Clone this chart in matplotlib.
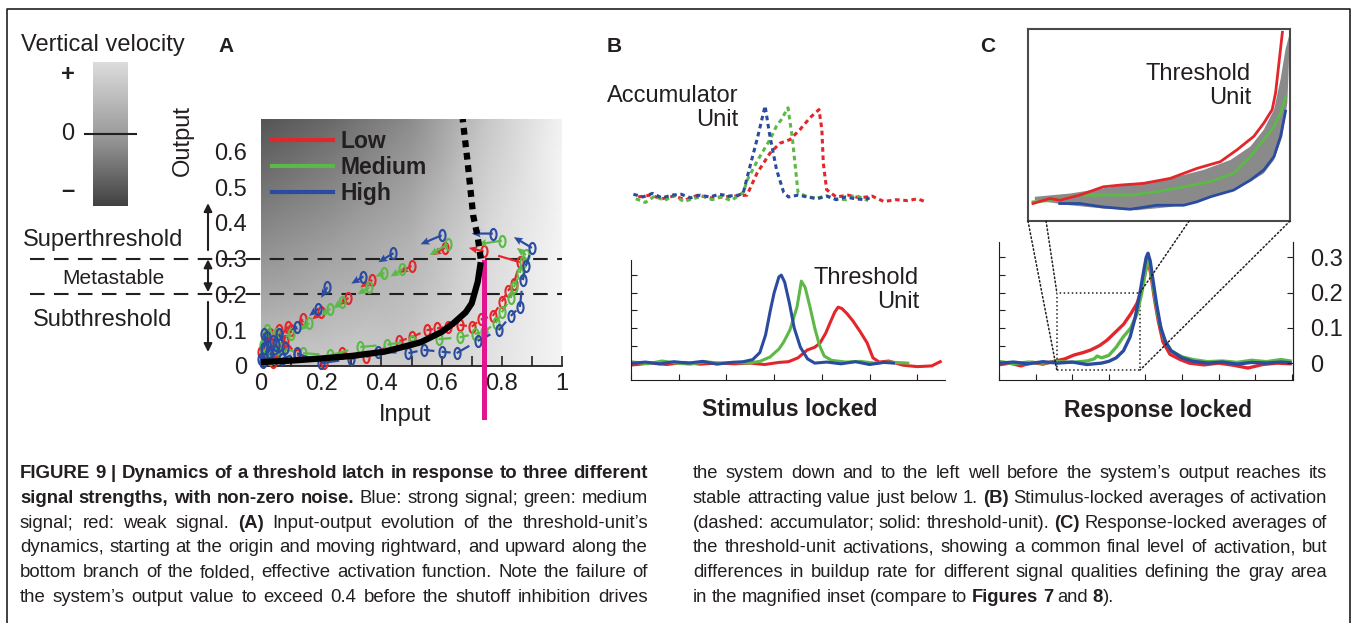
import numpy as np
import matplotlib
matplotlib.use('Agg')
import matplotlib.pyplot as plt
from matplotlib.path import Path
from matplotlib.lines import Line2D
from matplotlib.patches import Rectangle, ConnectionPatch
from matplotlib.colors import LinearSegmentedColormap, Normalize
from matplotlib.cm import ScalarMappable
from matplotlib import font_manager

W, H = 1356, 623
plt.rcParams['font.family'] = ['Liberation Sans', 'DejaVu Sans']
INK = '#231f20'
RED, GREEN, BLUE = '#e3262b', '#5db947', '#2a4b9f'
MAGENTA = '#e2168c'

# caption face: a narrow sans if one is installed
try:
    font_manager.findfont('Liberation Sans Narrow', fallback_to_default=False)
    CAP_FONT = ['Liberation Sans Narrow', 'Liberation Sans']
except Exception:
    CAP_FONT = ['Liberation Sans', 'DejaVu Sans']

# ---- panel A data ------------------------------------------------------
level_names = ['Low', 'Medium', 'High']
# background (vertical velocity shading)
bg_x = [0, 0.25, 0.5, 0.75, 1.0]
bg_y = [0, 0.35, 0.69]
bg_gray = [[0.78, 0.80, 0.80, 0.88, 0.96],
           [0.55, 0.62, 0.70, 0.85, 0.96],
           [0.33, 0.42, 0.55, 0.78, 0.95]]
# stable (solid) and unstable (dotted) branch of the activation function
stable_x = [0, 0.1, 0.2, 0.3, 0.41, 0.53, 0.6, 0.64, 0.68, 0.70, 0.72, 0.73]
stable_y = [0.011, 0.015, 0.021, 0.028, 0.04, 0.066, 0.095, 0.12, 0.15, 0.175, 0.235, 0.29]
unstable_x = [0.73, 0.72, 0.705, 0.685, 0.67]
unstable_y = [0.30, 0.36, 0.42, 0.58, 0.69]
threshold_input = 0.74
threshold_top = 0.29
upper_bound, lower_bound = 0.3, 0.2

# trajectories: lower (rightward) branch and upper (leftward, arrows) branch
red_low_x = [0.0, 0.015, 0.04, 0.07, 0.09, 0.01, 0.02, 0.03, 0.05, 0.06, 0.08, 0.12, 0.21, 0.27,
             0.35, 0.46, 0.50, 0.55, 0.585, 0.62, 0.66, 0.70, 0.73, 0.77, 0.80, 0.82, 0.84, 0.86]
red_low_y = [0.04, 0.08, 0.01, 0.05, 0.11, 0.02, 0.06, 0.09, 0.04, 0.10, 0.07, 0.03, 0.008, 0.036,
             0.025, 0.07, 0.08, 0.10, 0.105, 0.11, 0.115, 0.11, 0.13, 0.14, 0.18, 0.21, 0.23, 0.29]
red_up_x = [0.74, 0.61, 0.50, 0.37, 0.29, 0.20, 0.14, 0.10]
red_up_y = [0.32, 0.33, 0.28, 0.24, 0.19, 0.15, 0.13, 0.10]
red_up_u = [-0.05, -0.04, -0.04, -0.04, -0.03, -0.03, -0.02, -0.02]
red_up_v = [0.01, -0.02, -0.02, -0.02, -0.02, -0.02, -0.01, -0.01]

green_low_x = [0.005, 0.02, 0.05, 0.07, 0.01, 0.03, 0.04, 0.06, 0.14, 0.23, 0.33, 0.42, 0.50,
               0.59, 0.66, 0.71, 0.74, 0.78, 0.80, 0.83, 0.84, 0.86, 0.87]
green_low_y = [0.06, 0.10, 0.09, 0.03, 0.04, 0.02, 0.07, 0.05, 0.036, 0.03, 0.053, 0.06, 0.07,
               0.075, 0.08, 0.09, 0.095, 0.12, 0.15, 0.19, 0.22, 0.26, 0.29]
green_up_x = [0.88, 0.80, 0.62, 0.47, 0.41, 0.36, 0.27, 0.23, 0.16, 0.10]
green_up_y = [0.31, 0.35, 0.34, 0.27, 0.26, 0.22, 0.18, 0.16, 0.12, 0.09]
green_up_u = [-0.03, -0.08, -0.06, -0.04, -0.03, -0.04, -0.03, -0.03, -0.03, -0.02]
green_up_v = [0.02, -0.01, -0.03, -0.02, -0.01, -0.02, -0.02, -0.02, -0.02, -0.01]

blue_low_x = [0.0, 0.01, 0.025, 0.04, 0.06, 0.08, 0.005, 0.01, 0.02, 0.03, 0.05, 0.07, 0.12, 0.20,
              0.30, 0.39, 0.49, 0.54, 0.60, 0.65, 0.72, 0.79, 0.83, 0.86, 0.87, 0.88]
blue_low_y = [0.02, 0.09, 0.04, 0.07, 0.09, 0.05, 0.01, 0.05, 0.08, 0.03, 0.06, 0.02, 0.036, 0.008,
              0.02, 0.04, 0.036, 0.045, 0.04, 0.036, 0.07, 0.10, 0.14, 0.165, 0.24, 0.28]
blue_up_x = [0.90, 0.77, 0.60, 0.44, 0.34, 0.22, 0.19, 0.12]
blue_up_y = [0.33, 0.37, 0.365, 0.315, 0.25, 0.22, 0.16, 0.11]
blue_up_u = [-0.06, -0.07, -0.07, -0.05, -0.04, -0.02, -0.03, -0.02]
blue_up_v = [0.03, 0.0, -0.025, -0.025, -0.02, -0.03, -0.02, -0.01]

# ---- panel B data (stimulus locked) ------------------------------------
acc_blue_t = [0.05, 0.25, 0.45, 0.65, 0.85, 1.05, 1.25, 1.45, 1.65, 1.85, 2.05, 2.25, 2.35, 2.5,
              2.65, 2.81, 2.9, 3.05, 3.2, 3.3, 3.5, 3.7, 3.9, 4.1, 4.3, 4.5, 4.7, 4.9, 5.0]
acc_blue_v = [0.03, 0.0, 0.04, -0.01, 0.02, 0.03, -0.01, 0.02, 0.0, 0.03, 0.01, 0.02, 0.04, 0.35,
              0.65, 1.0, 0.7, 0.3, 0.05, 0.0, 0.02, 0.0, -0.02, 0.01, -0.03, 0.0, -0.02, -0.03, -0.01]
acc_green_t = [0.1, 0.3, 0.5, 0.7, 0.9, 1.1, 1.3, 1.5, 1.7, 1.9, 2.1, 2.35, 2.45, 2.65, 2.9, 3.05,
               3.15, 3.29, 3.38, 3.45, 3.5, 3.7, 3.9, 4.1, 4.3, 4.5, 4.7, 4.97]
acc_green_v = [-0.02, -0.06, 0.01, -0.04, 0.02, -0.05, -0.02, 0.01, -0.03, 0.0, -0.04, 0.05, 0.2,
               0.4, 0.62, 0.78, 0.85, 0.98, 0.65, 0.3, 0.05, 0.0, -0.01, 0.01, -0.02, -0.03, 0.02, -0.04]
acc_red_t = [0.15, 0.4, 0.65, 0.9, 1.15, 1.4, 1.65, 1.9, 2.15, 2.43, 2.64, 2.91, 3.12, 3.33, 3.54,
             3.75, 3.94, 4.0, 4.03, 4.1, 4.3, 4.55, 4.8, 5.05, 5.3, 5.55, 5.8, 6.0, 6.16]
acc_red_v = [0.0, 0.02, -0.02, 0.01, -0.03, 0.02, -0.01, 0.0, 0.01, 0.02, 0.26, 0.48, 0.59, 0.63,
             0.74, 0.87, 0.96, 0.74, 0.37, 0.08, 0.0, 0.02, -0.01, 0.01, -0.05, -0.03, -0.04, -0.02, -0.05]

thr_blue_t = [0.05, 0.3, 0.6, 0.9, 1.2, 1.5, 1.8, 2.1, 2.35, 2.55, 2.7, 2.82, 2.92, 3.0, 3.1, 3.15,
              3.22, 3.32, 3.42, 3.55, 3.7, 3.85, 4.1, 4.4, 4.7, 5.0, 5.3, 5.5]
thr_blue_v = [0.0, 0.003, -0.002, 0.004, 0.0, 0.005, -0.003, 0.002, 0.004, 0.01, 0.03, 0.08, 0.15,
              0.2, 0.245, 0.25, 0.23, 0.17, 0.1, 0.045, 0.012, 0.0, 0.003, -0.002, 0.004, -0.004, 0.002, 0.0]
thr_green_t = [0.05, 0.35, 0.65, 0.95, 1.25, 1.55, 1.85, 2.15, 2.45, 2.7, 2.91, 3.1, 3.2, 3.33, 3.48,
               3.57, 3.65, 3.75, 3.85, 3.95, 4.05, 4.2, 4.5, 4.8, 5.1, 5.4, 5.8]
thr_green_v = [0.003, -0.002, 0.006, 0.0, -0.003, 0.004, 0.0, 0.002, 0.0, 0.005, 0.017, 0.04, 0.06,
               0.094, 0.16, 0.233, 0.215, 0.16, 0.1, 0.05, 0.02, 0.008, 0.003, 0.005, 0.0, 0.003, 0.0]
thr_red_t = [0.05, 0.4, 0.75, 1.1, 1.45, 1.8, 2.15, 2.5, 2.8, 3.1, 3.3, 3.5, 3.69, 3.85, 3.96, 4.08,
             4.17, 4.27, 4.34, 4.42, 4.53, 4.65, 4.8, 4.95, 5.07, 5.2, 5.4, 5.7, 6.0, 6.3, 6.48]
thr_red_v = [-0.005, 0.0, -0.004, 0.002, -0.003, 0.0, -0.002, 0.0, -0.004, 0.002, 0.004, 0.015,
             0.037, 0.045, 0.057, 0.085, 0.114, 0.145, 0.159, 0.155, 0.14, 0.12, 0.09, 0.057, 0.015,
             0.003, 0.006, -0.006, -0.01, -0.008, 0.004]

# ---- panel C data (response locked) ------------------------------------
rsp_red_t = [0.05, 0.3, 0.6, 0.9, 1.2, 1.5, 1.8, 2.05, 2.3, 2.5, 2.75, 2.95, 3.15, 3.4, 3.6, 3.77,
             3.9, 4.0, 4.07, 4.15, 4.25, 4.35, 4.48, 4.67, 4.95, 5.2, 5.6, 6.0, 6.4, 6.8, 7.2, 7.6, 7.95]
rsp_red_v = [-0.004, 0.0, -0.008, 0.002, -0.003, 0.005, 0.012, 0.023, 0.03, 0.037, 0.05, 0.065,
             0.085, 0.11, 0.14, 0.17, 0.21, 0.26, 0.295, 0.25, 0.18, 0.12, 0.06, 0.025, 0.01, 0.0,
             -0.005, 0.0, -0.006, -0.014, -0.004, 0.0, -0.002]
rsp_green_t = [0.05, 0.4, 0.8, 1.2, 1.6, 2.0, 2.4, 2.6, 2.68, 2.8, 3.0, 3.2, 3.39, 3.6, 3.77, 3.9,
               4.0, 4.07, 4.15, 4.25, 4.35, 4.5, 4.7, 5.0, 5.3, 5.7, 6.1, 6.5, 6.9, 7.3, 7.7, 7.95]
rsp_green_v = [0.004, -0.002, 0.003, 0.0, 0.004, 0.002, 0.006, 0.012, 0.02, 0.015, 0.022, 0.045,
               0.074, 0.1, 0.14, 0.2, 0.26, 0.30, 0.26, 0.19, 0.13, 0.07, 0.035, 0.018, 0.01, 0.004,
               0.006, 0.002, 0.008, 0.004, 0.01, 0.006]
rsp_blue_t = [0.05, 0.4, 0.8, 1.2, 1.6, 2.0, 2.4, 2.8, 3.0, 3.2, 3.4, 3.58, 3.72, 3.85, 3.95, 4.02,
              4.07, 4.13, 4.2, 4.3, 4.42, 4.55, 4.7, 5.0, 5.3, 5.7, 6.1, 6.5, 6.9, 7.3, 7.7, 7.95]
rsp_blue_v = [0.0, 0.003, -0.002, 0.004, 0.0, 0.003, -0.004, 0.0, 0.005, 0.015, 0.035, 0.074, 0.13,
              0.2, 0.26, 0.3, 0.312, 0.29, 0.24, 0.17, 0.1, 0.06, 0.035, 0.015, 0.005, 0.0, 0.003,
              -0.003, 0.002, 0.0, 0.003, 0.001]
zoom_t = (1.58, 3.85)
zoom_v = (-0.02, 0.2)

# magnified inset (normalised units)
ins_red_x = [0.019, 0.083, 0.121, 0.198, 0.287, 0.351, 0.441, 0.543, 0.645, 0.734, 0.798, 0.862,
             0.900, 0.932, 0.945, 0.958, 0.971]
ins_red_y = [0.091, 0.117, 0.108, 0.135, 0.178, 0.187, 0.196, 0.222, 0.274, 0.309, 0.371, 0.441,
             0.510, 0.580, 0.668, 0.825, 0.983]
ins_green_x = [0.019, 0.109, 0.198, 0.287, 0.390, 0.492, 0.594, 0.696, 0.785, 0.849, 0.900, 0.939,
               0.964, 0.983]
ins_green_y = [0.100, 0.108, 0.135, 0.135, 0.135, 0.152, 0.178, 0.205, 0.248, 0.336, 0.423, 0.493,
               0.563, 0.642]
ins_blue_x = [0.121, 0.198, 0.287, 0.390, 0.492, 0.594, 0.645, 0.696, 0.785, 0.849, 0.900, 0.939,
              0.964, 0.983]
ins_blue_y = [0.091, 0.091, 0.073, 0.061, 0.082, 0.082, 0.100, 0.126, 0.161, 0.213, 0.266, 0.336,
              0.441, 0.572]
band_up_x = [0.026, 0.160, 0.287, 0.415, 0.543, 0.670, 0.773, 0.849, 0.900, 0.939, 0.964, 0.983, 1.0]
band_up_y = [0.126, 0.143, 0.170, 0.196, 0.222, 0.266, 0.318, 0.388, 0.476, 0.580, 0.738, 0.895, 0.983]
band_lo_x = [0.026, 0.160, 0.287, 0.415, 0.543, 0.670, 0.773, 0.849, 0.900, 0.939, 0.971, 0.990, 1.0]
band_lo_y = [0.108, 0.082, 0.065, 0.056, 0.073, 0.108, 0.161, 0.205, 0.248, 0.318, 0.441, 0.615, 0.983]

caption_left = [
    "*FIGURE 9 | Dynamics of a threshold latch in response to three different*",
    "*signal strengths, with non-zero noise.* Blue: strong signal; green: medium",
    "signal; red: weak signal. *(A)* Input-output evolution of the threshold-unit\u2019s",
    "dynamics, starting at the origin and moving rightward, and upward along the",
    "bottom branch of the folded, effective activation function. Note the failure of",
    "the system\u2019s output value to exceed 0.4 before the shutoff inhibition drives",
]
caption_right = [
    "the system down and to the left well before the system\u2019s output reaches its",
    "stable attracting value just below 1. *(B)* Stimulus-locked averages of activation",
    "(dashed: accumulator; solid: threshold-unit). *(C)* Response-locked averages of",
    "the threshold-unit activations, showing a common final level of activation, but",
    "differences in buildup rate for different signal qualities defining the gray area",
    "in the magnified inset (compare to *Figures 7* and *8*).",
]

fig = plt.figure(figsize=(W / 100, H / 100), dpi=100)


def px_axes(l, t, r, b):
    return fig.add_axes([l / W, 1 - b / H, (r - l) / W, (b - t) / H])


def ftext(x, y, s, **kw):
    kw.setdefault('color', INK)
    return fig.text(x / W, 1 - y / H, s, **kw)


# outer frame
fig.add_artist(Line2D([7 / W, 7 / W, 1350 / W, 1350 / W], [0, 1 - 9 / H, 1 - 9 / H, 0],
                      transform=fig.transFigure, color=INK, lw=1.2))

# ---- Panel A -----------------------------------------------------------
ax = px_axes(261, 119, 562, 366)
ax.pcolormesh(bg_x, bg_y, bg_gray, shading='gouraud', cmap='gray', vmin=0, vmax=1, zorder=0)
ax.set_xlim(0, 1)
ax.set_ylim(0, 0.69)
for s in ['top', 'right', 'left']:
    ax.spines[s].set_visible(False)
ax.spines['bottom'].set_color(INK)
ax.spines['bottom'].set_linewidth(1.3)
ax.set_xticks(np.arange(0, 1.01, 0.1))
ax.set_xticklabels(['0', '', '0.2', '', '0.4', '', '0.6', '', '0.8', '', '1'])
ax.tick_params(axis='x', direction='in', length=7, width=1.2, pad=5, labelsize=17,
               colors=INK)
ax.set_yticks(np.arange(0, 0.61, 0.1))
ax.set_yticklabels(['0', '0.1', '0.2', '0.3', '0.4', '0.5', '0.6'])
ax.tick_params(axis='y', length=0, pad=10, labelsize=17, colors=INK)

ellipse = Path(Path.unit_circle().vertices * [0.55, 1.0], Path.unit_circle().codes)
series = [(RED, red_low_x, red_low_y, red_up_x, red_up_y, red_up_u, red_up_v),
          (GREEN, green_low_x, green_low_y, green_up_x, green_up_y, green_up_u, green_up_v),
          (BLUE, blue_low_x, blue_low_y, blue_up_x, blue_up_y, blue_up_u, blue_up_v)]
for c, lx, ly, ux, uy, uu, uv in series:
    lx, ly = np.array(lx), np.array(ly)
    nx = np.append(lx[1:], ux[0])
    ny = np.append(ly[1:], uy[0])
    ax.quiver(lx, ly, (nx - lx) * 0.6, (ny - ly) * 0.6, color=c, angles='xy', scale_units='xy',
              scale=1, units='dots', width=2.2, headwidth=1, headlength=0, headaxislength=0,
              zorder=3, clip_on=False)
    ax.quiver(ux, uy, uu, uv, color=c, angles='xy', scale_units='xy', scale=1, units='dots',
              width=2.2, headwidth=3.5, headlength=4, headaxislength=3.5, zorder=3)
    ax.plot(np.r_[lx, ux], np.r_[ly, uy], ls='none', marker=ellipse, ms=8, mfc='none', mec=c,
            mew=1.5, zorder=3, clip_on=False)

ax.plot(stable_x, stable_y, color='black', lw=4.5, solid_capstyle='butt', zorder=5, clip_on=False)
ax.plot(unstable_x, unstable_y, color='black', lw=4.5, ls=(0, (1.1, 0.9)), zorder=5)
ax.plot([threshold_input, threshold_input], [threshold_top, -0.142], color=MAGENTA, lw=3.6,
        zorder=4, clip_on=False)
for yb in (upper_bound, lower_bound):
    ax.axhline(yb, xmin=-(261 - 30) / 301, xmax=1, color=INK, lw=1.5, ls=(0, (7, 4.5)),
               clip_on=False, zorder=2)

handles = [Line2D([], [], color=c, lw=3) for c in (RED, GREEN, BLUE)]
leg = ax.legend(handles, level_names, loc='upper left', bbox_to_anchor=(0.035, 0.955),
                frameon=False, prop={'weight': 'bold', 'size': 16.5}, handlelength=2.7,
                handletextpad=0.3, labelspacing=0.13, borderaxespad=0, borderpad=0)
for t in leg.get_texts():
    t.set_color(INK)

# region arrows
trans = ax.get_yaxis_transform()
arrow_x = (208 - 261) / 301
for y0, y1, style in [(0.324, 0.455, '-|>'), (0.206, 0.298, '<|-|>'), (0.179, 0.039, '-|>')]:
    ax.annotate('', xy=(arrow_x, y1), xytext=(arrow_x, y0), xycoords=trans, textcoords=trans,
                arrowprops=dict(arrowstyle=style, color=INK, lw=1.5, mutation_scale=12,
                                shrinkA=0, shrinkB=0), annotation_clip=False)

ftext(103, 240, 'Superthreshold', ha='center', va='center', fontsize=17)
ftext(113, 278, 'Metastable', ha='center', va='center', fontsize=15)
ftext(103, 320, 'Subthreshold', ha='center', va='center', fontsize=17)
ftext(183, 140, 'Output', rotation=90, ha='center', va='center', fontsize=17)
ftext(405, 415, 'Input', ha='center', va='center', fontsize=17)
ftext(226, 47, 'A', ha='center', va='center', fontsize=15, fontweight='bold')
ftext(103, 45, 'Vertical velocity', ha='center', va='center', fontsize=17)

# vertical velocity colour key
cax = px_axes(93, 62, 128, 206)
cmap = LinearSegmentedColormap.from_list('vel', ['#414141', '#9c9c9c', '#dcdcdc'])
cb = fig.colorbar(ScalarMappable(norm=Normalize(-1, 1), cmap=cmap), cax=cax)
cb.outline.set_visible(False)
cb.set_ticks([])
cax.axhline(0, xmin=-0.23, xmax=1.23, color=INK, lw=1.5, clip_on=False)
for yy, s in [(0.91, '+'), (0.5, '0'), (0.11, '\u2013')]:
    cax.text(-0.71, yy, s, transform=cax.transAxes, ha='center', va='center', fontsize=17,
             color=INK, fontweight='bold' if s != '0' else 'normal')

# ---- Panel B -----------------------------------------------------------
axa = px_axes(631, 95, 945, 210)
axa.axis('off')
axa.set_xlim(0, 6.58)
axa.set_ylim(-0.143, 1.12)
for c, t, v in [(RED, acc_red_t, acc_red_v), (GREEN, acc_green_t, acc_green_v),
                (BLUE, acc_blue_t, acc_blue_v)]:
    axa.plot(t, v, color=c, lw=2.2, ls=(0, (1.5, 1.2)))
ftext(738, 108, 'Accumulator\nUnit', ha='right', va='center', fontsize=17, linespacing=1.15)

axb = px_axes(631, 260, 945, 380)
axb.set_xlim(0, 6.58)
axb.set_ylim(-0.048, 0.293)
for c, t, v in [(RED, thr_red_t, thr_red_v), (GREEN, thr_green_t, thr_green_v),
                (BLUE, thr_blue_t, thr_blue_v)]:
    axb.plot(t, v, color=c, lw=2.2)
for s in ['top', 'right']:
    axb.spines[s].set_visible(False)
for s in ['left', 'bottom']:
    axb.spines[s].set_color(INK)
axb.set_xticks(range(7))
axb.set_yticks(np.arange(0, 0.26, 0.05))
axb.tick_params(direction='in', length=4, labelleft=False, labelbottom=False, colors=INK)
ftext(919, 290, 'Threshold\nUnit', ha='right', va='center', fontsize=17, linespacing=1.15)
ftext(790, 410, 'Stimulus locked', ha='center', va='center', fontsize=16.5, fontweight='bold')
ftext(614, 46, 'B', ha='center', va='center', fontsize=15, fontweight='bold')

# ---- Panel C -----------------------------------------------------------
axc = px_axes(999, 242, 1293, 380)
axc.set_xlim(0, 8.03)
axc.set_ylim(-0.048, 0.344)
for c, t, v in [(RED, rsp_red_t, rsp_red_v), (GREEN, rsp_green_t, rsp_green_v),
                (BLUE, rsp_blue_t, rsp_blue_v)]:
    axc.plot(t, v, color=c, lw=2.4)
axc.spines['top'].set_visible(False)
for s in ['left', 'bottom', 'right']:
    axc.spines[s].set_color(INK)
axc.set_xticks(range(9))
axc.set_yticks(np.arange(0, 0.31, 0.05))
axc.tick_params(direction='in', length=4, labelleft=False, labelbottom=False, colors=INK)
axr = axc.twinx()
axr.set_ylim(axc.get_ylim())
axr.set_yticks([0, 0.1, 0.2, 0.3])
axr.set_yticklabels(['0', '0.1', '0.2', '0.3'])
axr.tick_params(direction='in', length=4, pad=12, labelsize=17, colors=INK)
for s in ['top', 'left', 'bottom']:
    axr.spines[s].set_visible(False)
axr.spines['right'].set_color(INK)

axc.add_patch(Rectangle((zoom_t[0], zoom_v[0]), zoom_t[1] - zoom_t[0], zoom_v[1] - zoom_v[0],
                        fill=False, ec=INK, lw=1.1, ls=':', clip_on=False))

axi = px_axes(1028, 29, 1290, 221)
axi.set_xlim(0, 1)
axi.set_ylim(0, 1)
axi.set_xticks([])
axi.set_yticks([])
for s in axi.spines.values():
    s.set_color('#4a4a4a')
    s.set_linewidth(1.5)
axi.fill(np.r_[band_up_x, band_lo_x[::-1]], np.r_[band_up_y, band_lo_y[::-1]],
         color='#8a8a8a', lw=0)
for c, x, y in [(GREEN, ins_green_x, ins_green_y), (BLUE, ins_blue_x, ins_blue_y),
                (RED, ins_red_x, ins_red_y)]:
    axi.plot(x, y, color=c, lw=2)
ftext(1251, 86, 'Threshold\nUnit', ha='right', va='center', fontsize=17, linespacing=1.15)

for (ia, ib) in [((0, 0), (zoom_t[0], zoom_v[0])),
                 ((0.069, 0), (zoom_t[0], zoom_v[1])),
                 ((0.615, 0), (zoom_t[1], zoom_v[1])),
                 ((1, 0), (zoom_t[1], zoom_v[0]))]:
    fig.add_artist(ConnectionPatch(xyA=ia, coordsA=axi.transAxes, xyB=ib, coordsB=axc.transData,
                                   ls=':', lw=1.1, color=INK))

ftext(1158, 410, 'Response locked', ha='center', va='center', fontsize=16.5, fontweight='bold')
ftext(988, 46, 'C', ha='center', va='center', fontsize=15, fontweight='bold')

# ---- caption -----------------------------------------------------------
renderer = fig.canvas.get_renderer()


def column(lines, x0, width, size, ragged_last):
    rows = []
    for line in lines:
        bold = False
        words = []
        for w in line.split(' '):
            segs = []
            for i, p in enumerate(w.split('*')):
                if i:
                    bold = not bold
                if p:
                    segs.append(fig.text(0, 0, p, fontsize=size, color=INK, va='baseline',
                                         family=CAP_FONT,
                                         fontweight='bold' if bold else 'normal'))
            words.append(segs)
        rows.append(words)
    space = 0.25 * size * 100 / 72

    def widths(words):
        return [sum(s.get_window_extent(renderer).width for s in segs) for segs in words]

    nat = [sum(widths(w)) + space * (len(w) - 1) for w in rows]
    check = nat[:-1] if ragged_last else nat
    scale = min(1.0, min(width / n for n in check))
    if scale < 1:
        size *= scale
        space *= scale
        for words in rows:
            for segs in words:
                for s in segs:
                    s.set_fontsize(size)
    for k, words in enumerate(rows):
        ws = widths(words)
        if ragged_last and k == len(rows) - 1:
            gap = space
        else:
            gap = (width - sum(ws)) / (len(words) - 1)
        x = x0
        yb = 1 - (478 + 24.8 * k) / H
        for segs, wdt in zip(words, ws):
            xx = x
            for s in segs:
                s.set_position((xx / W, yb))
                xx += s.get_window_extent(renderer).width
            x += wdt + gap


column(caption_left, 20, 628, 15, False)
column(caption_right, 693, 634, 15, True)

fig.savefig('out.png', dpi=100)
